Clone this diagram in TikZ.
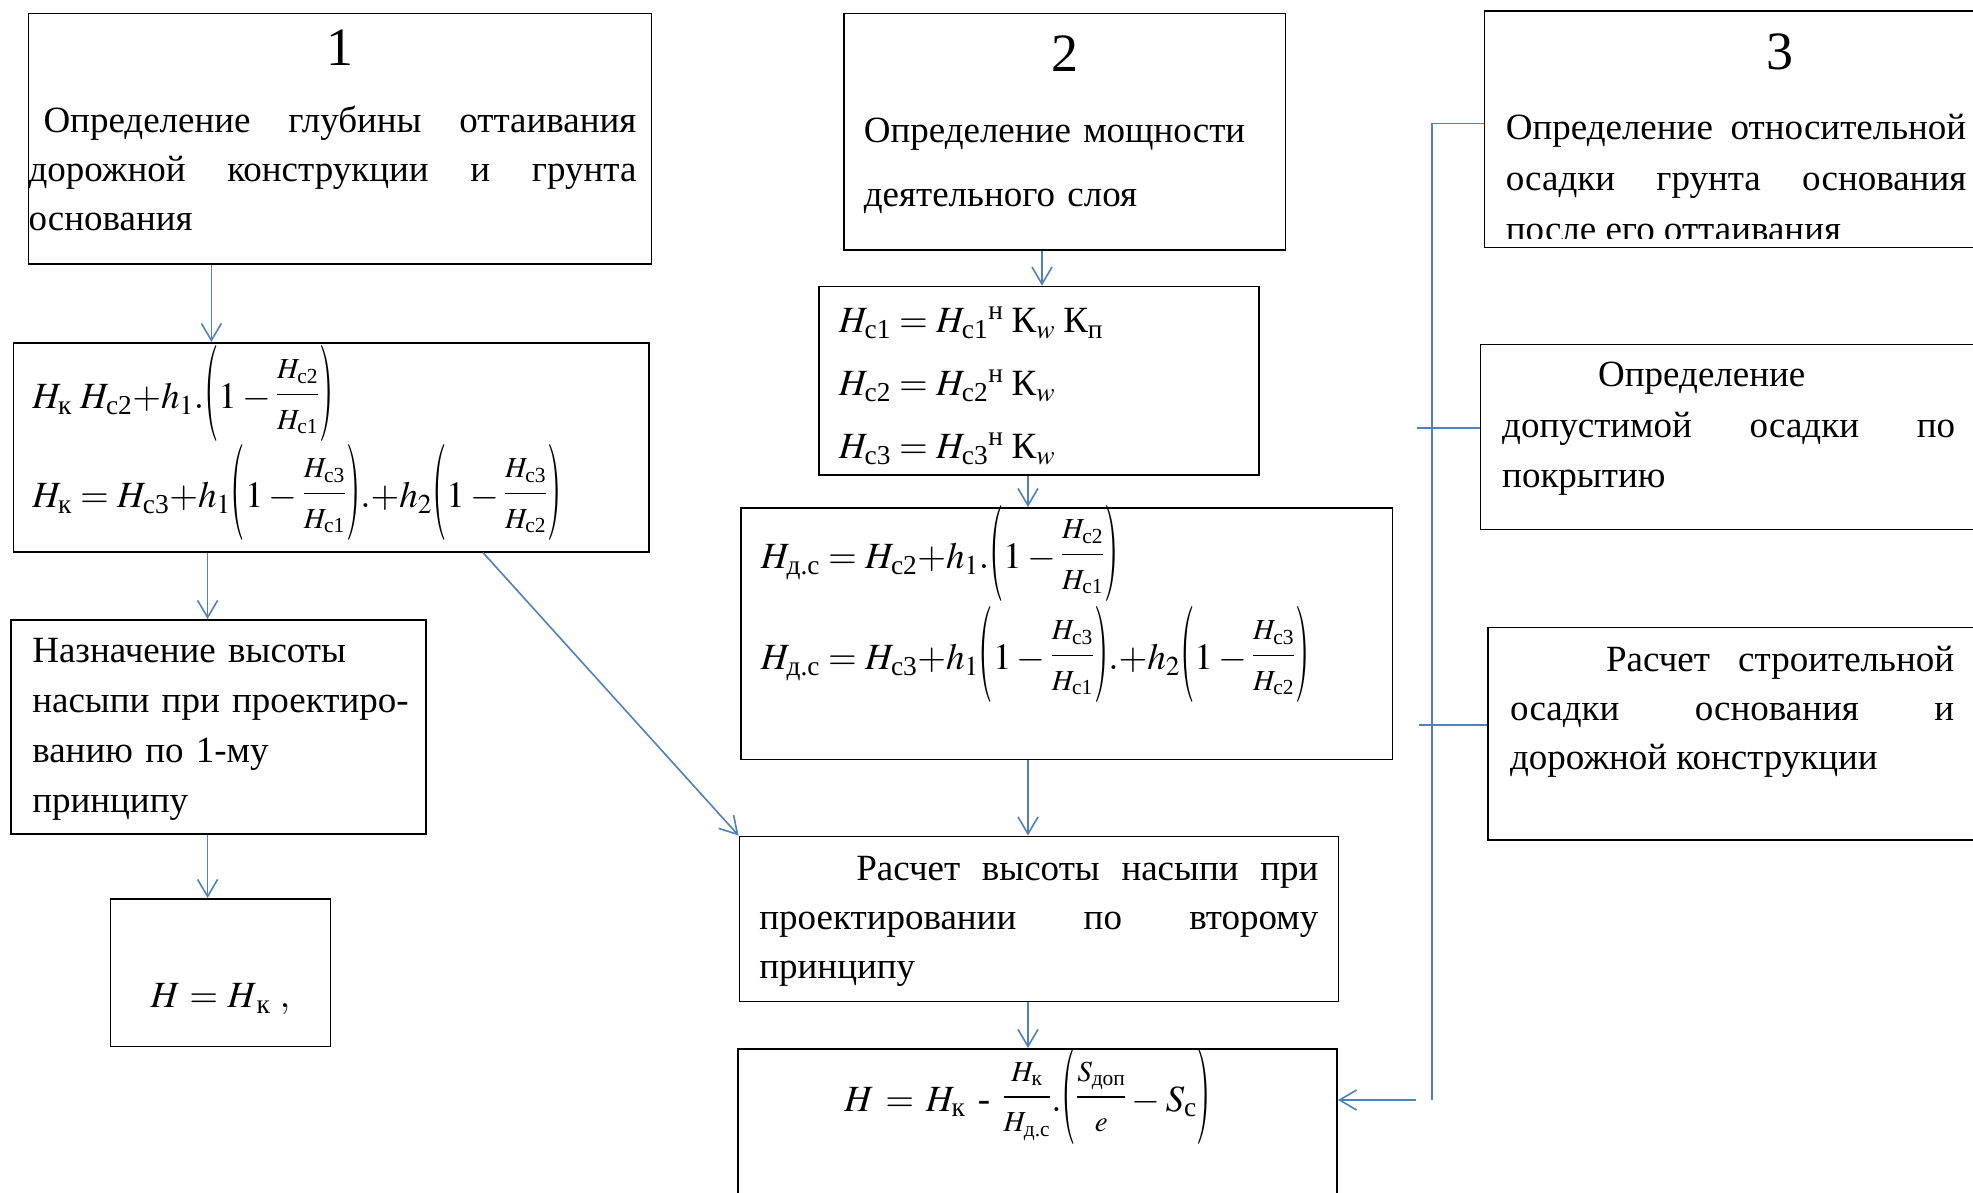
\RequirePackage{fix-cm}
\documentclass[tikz,border=0pt]{standalone}
\usepackage{amsmath}
\usepackage{mathptmx}
\usepackage{graphicx}
\usepackage{fontspec}
\setmainfont{Liberation Serif}
\usepackage{tikz}
\usetikzlibrary{arrows.meta}
\definecolor{wordblue}{RGB}{79,129,189}
\newcommand\blocknum[2][0pt]{\makebox[\dimexpr\linewidth-\rightskip\relax]{\hspace{#1}\fontsize{54}{60}\selectfont #2}}
\newcommand\tx[1]{\text{#1}}
\newcommand\fr[2]{\mathord{\raisebox{5pt}{$\displaystyle\frac{\text{\fontsize{29}{35}\selectfont$#1$}}{\text{\fontsize{29}{35}\selectfont$#2$}}$}}}
\newcommand\tallparen[1]{\mathord{\raisebox{6pt}{$\vcenter{\hbox{\scalebox{1}[2.6]{$#1$}}}$}}}
\newcommand\pr[1]{\mathord{\tallparen{(}#1\tallparen{)}}}
\tikzstyle{blk}=[rectangle,draw=black,line width=1.6pt,anchor=north west,inner sep=0pt,font=\fontsize{37}{49}\selectfont]
\tikzstyle{wire}=[draw=wordblue,line width=1.6pt]
\tikzstyle{flow}=[wire,-{Straight Barb[length=17pt,width=20pt]}]

\begin{document}
\begin{tikzpicture}[x=1pt,y=-1pt]
  \useasboundingbox (0,0) rectangle (1973,1192);
  \clip (0,0) rectangle (1973,1192);
  \fill[white] (0,0) rectangle (1973,1192);
  % column 1
  \node[blk, text height=52pt, text depth=198.4pt] at (27.7,12.6) (b1)
    {\parbox[t]{623pt}{\rightskip=15pt
     \blocknum[15pt]{1}\\[18.4pt]
     \hspace*{15pt}Определение глубины оттаивания\linebreak
     дорожной конструкции и грунта\linebreak
     основания}};
  \node[blk, text width=597.4pt, inner xsep=19pt, text height=66pt, text depth=143pt, align=left] at (12.6,342) (b1b)
    {\smash{$H_{\tx{к}}\;H_{\tx{с2}}{+}h_1.\pr{1-\fr{H_{\tx{с2}}}{H_{\tx{с1}}}}$}\\[50pt]
     \smash{$H_{\tx{к}}=H_{\tx{с3}}{+}h_1\pr{1-\fr{H_{\tx{с3}}}{H_{\tx{с1}}}}.{+}h_2\pr{1-\fr{H_{\tx{с3}}}{H_{\tx{с2}}}}$}};
  \node[blk, text width=372pt, inner xsep=21.5pt, text height=42.8pt, text depth=171.2pt, align=left, font=\fontsize{37}{50}\selectfont] at (10,619) (b1c)
    {Назначение высоты\\\mbox{насыпи при проектиро-}\\ванию по 1-му\\принципу};
  \node[blk, text width=200.2pt, inner xsep=10pt, text height=109pt, text depth=38.6pt, align=center] at (109.5,898) (b1d)
    {$H=H_{\,\tx{к}}\;,$};
  \draw[flow] (b1.south -| 211.4,0) -- (b1b.north -| 211.4,0);
  \draw[flow] (b1b.south -| 207.6,0) -- (b1c.north -| 207.6,0);
  \draw[flow] (b1c.south -| 207.6,0) -- (b1d.north -| 207.6,0);
  % column 2
  \node[blk, text width=401.7pt, inner xsep=20pt, text height=58.4pt, text depth=178pt, align=left] at (843,12.6) (b2)
    {\blocknum{2}\\[22pt]Определение мощности\\[15pt]деятельного слоя};
  \node[blk, text width=400pt, inner xsep=20pt, text height=46.4pt, text depth=142.4pt, align=left] at (818,285.6) (b2b)
    {\smash{$H_{\tx{с1}}=H_{\tx{с1}}{}^{\tx{н}}\;\tx{К}_w\;\tx{К}_{\tx{п}}$}\\[14pt]
     \smash{$H_{\tx{с2}}=H_{\tx{с2}}{}^{\tx{н}}\;\tx{К}_w$}\\[14pt]
     \smash{$H_{\tx{с3}}=H_{\tx{с3}}{}^{\tx{н}}\;\tx{К}_w$}};
  \node[blk, text width=611.7pt, inner xsep=20pt, text height=61pt, text depth=190.8pt, align=left] at (740,507) (b2c)
    {\smash{$H_{\tx{д.с}}=H_{\tx{с2}}{+}h_1.\pr{1-\fr{H_{\tx{с2}}}{H_{\tx{с1}}}}$}\\[52pt]
     \smash{$H_{\tx{д.с}}=H_{\tx{с3}}{+}h_1\pr{1-\fr{H_{\tx{с3}}}{H_{\tx{с1}}}}.{+}h_2\pr{1-\fr{H_{\tx{с3}}}{H_{\tx{с2}}}}$}};
  \node[blk, text width=559pt, inner xsep=20pt, text height=44pt, text depth=121pt, align=justify] at (738.6,835.5) (b2d)
    {\hspace*{97pt}Расчет высоты насыпи при\linebreak
     проектировании по второму\linebreak
     принципу};
  \node[blk, text width=559pt, inner xsep=20pt, text height=62.5pt, text depth=137.5pt, align=center] at (737.4,1048) (b2e)
    {$H=H_{\tx{к}}\tx{ - }\fr{H_{\tx{к}}}{H_{\tx{д.с}}}.\pr{\fr{S_{\tx{доп}}}{e}-S_{\tx{с}}}$\rule{20pt}{0pt}};
  \draw[flow] (b2.south -| 1042,0) -- (b2b.north -| 1042,0);
  \draw[flow] (b2b.south -| 1028,0) -- (b2c.north -| 1028,0);
  \draw[flow] (b2c.south -| 1028,0) -- (b2d.north -| 1028,0);
  \draw[flow] (b2d.south -| 1028,0) -- (b2e.north -| 1028,0);
  \draw[flow] (b1b.south -| 483,0) -- (b2d.north west);
  % column 3
  \node[blk, minimum width=503.5pt, minimum height=236.6pt] at (1483.5,10) (b3) {};
  \begin{scope}
    \clip ([xshift=1pt,yshift=-1pt]b3.north west) rectangle ([yshift=9.5pt]b3.south east);
    \node[blk, draw=none, text width=460.5pt, inner xsep=21.5pt, text height=58.3pt, text depth=178.3pt, align=justify, font=\fontsize{37}{50.75}\selectfont] at (1483.5,10) (t3)
      {\blocknum[88pt]{3}\\[19.95pt]
       Определение относительной\linebreak
       осадки грунта основания\linebreak
       после его оттаивания};
  \end{scope}
  \node[blk, text width=453pt, inner xsep=21.6pt, text height=42.5pt, text depth=142.5pt, align=justify, font=\fontsize{37}{50.5}\selectfont] at (1479.8,343.5) (b3b)
    {\hspace*{96pt}Определение\\
     допустимой осадки по\linebreak
     покрытию};
  \node[blk, text width=444pt, inner xsep=22pt, text height=44pt, text depth=168.7pt, align=justify] at (1487.3,626.6) (b3c)
    {\hspace*{96pt}Расчет строительной\linebreak
     осадки основания и\linebreak
     дорожной конструкции};
  \coordinate (bustop) at (1432,123.5);
  \coordinate (busend) at (1432,1100);
  \coordinate (tapa) at (1417,428);
  \coordinate (tapb) at (1419,725);
  \coordinate (tapc) at (1416,1100);
  \draw[wire] (b3.west |- bustop) -- (bustop) -- (busend);
  \draw[wire] (tapa) -- (b3b.west |- tapa);
  \draw[wire] (tapb) -- (b3c.west |- tapb);
  \draw[flow] (tapc) -- (b2e.east |- tapc);
\end{tikzpicture}
\end{document}
